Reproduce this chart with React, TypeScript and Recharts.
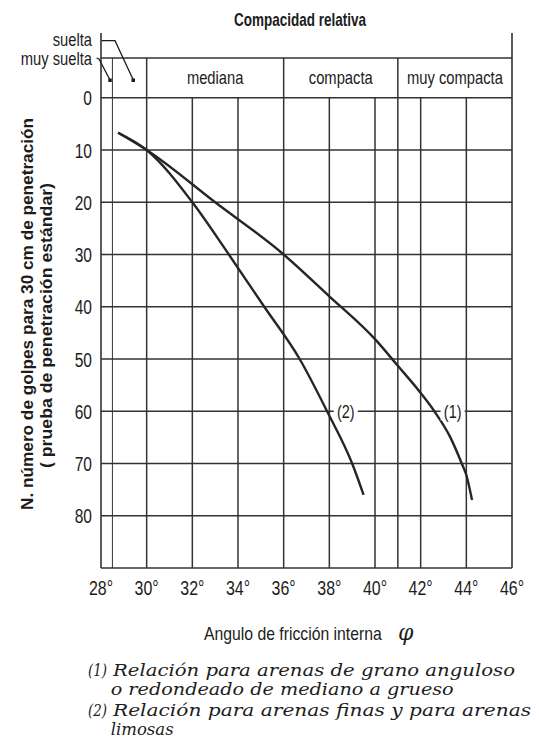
import { LineChart, Line, XAxis, YAxis, ReferenceLine, ReferenceArea, ReferenceDot } from "recharts";

// valores (ángulo phi en grados, N golpes)
const CURVE1_PHI = [28.75, 30, 33, 36, 38, 40, 41, 42, 42.6, 43.3, 43.8, 44.0, 44.25];
const CURVE1_N = [6.7, 10, 20, 30, 38, 46.2, 51.3, 56.5, 60, 65, 70, 72.2, 77];
const CURVE2_PHI = [28.75, 30, 32, 33.6, 35.15, 36.7, 37.9, 39.0, 39.5];
const CURVE2_N = [6.7, 10, 20, 30, 40, 50, 60, 70, 76];

const X_TICKS = [28, 30, 32, 34, 36, 38, 40, 42, 44, 46];
const Y_TICKS = [0, 10, 20, 30, 40, 50, 60, 70, 80];
const GRID_X = [32, 34, 38, 40, 42, 44];
const DIVIDER_X = [28.5, 30, 36, 41];
const ZONE_EDGES = [30, 36, 41, 46];
const ZONE_NAMES = ["mediana", "compacta", "muy compacta"];
const CURVE_LABELS = [
  { text: "(1)", phi: 43.4, n: 60 },
  { text: "(2)", phi: 38.72, n: 60 },
];

const curve1 = CURVE1_PHI.map((phi, i) => ({ phi, n: CURVE1_N[i] }));
const curve2 = CURVE2_PHI.map((phi, i) => ({ phi, n: CURVE2_N[i] }));

const W = 531;
const H = 735;
const HEADER_TOP = -7.6;
const Y_MIN = -12.4;
const Y_MAX = 90;

const SANS = '"Liberation Sans", Arial, sans-serif';
const SERIF = '"DejaVu Serif", "Liberation Serif", serif';
const INK = "#1c1c1c";
const GRID = "#333";

// texto sans estrecho (imita una fuente condensada)
function NText(props: any) {
  const { x, y, anchor = "start", size = 18, weight = "normal", sx = 0.8, children } = props;
  return (
    <text
      transform={`translate(${x},${y}) scale(${sx},1)`}
      textAnchor={anchor}
      fontSize={size}
      fontWeight={weight}
      fontFamily={SANS}
      fill={INK}
    >
      {children}
    </text>
  );
}

function XTick(props: any) {
  const { x, y, payload } = props;
  return (
    <NText x={x} y={y + 15} anchor="middle" size={21} sx={0.76}>
      {payload.value}°
    </NText>
  );
}

function YTick(props: any) {
  const { x, y, payload } = props;
  return (
    <NText x={x} y={y + 7.5} anchor="end" size={21} sx={0.74}>
      {payload.value}
    </NText>
  );
}

function ZoneLabel(props: any) {
  const { viewBox, text } = props;
  if (!viewBox) return null;
  return (
    <NText x={viewBox.x + viewBox.width / 2} y={viewBox.y + viewBox.height / 2 + 6.5} anchor="middle" size={18} sx={0.82}>
      {text}
    </NText>
  );
}

function CurveLabel(props: any) {
  const { cx, cy, text } = props;
  return (
    <g>
      <rect x={cx - 12} y={cy - 9} width={24} height={18} fill="#fff" />
      <NText x={cx} y={cy + 6.5} anchor="middle" size={18} sx={0.8}>
        {text}
      </NText>
    </g>
  );
}

export default function App() {
  return (
    <div style={{ position: "relative", width: W, height: H, background: "#fff" }}>
      <LineChart width={W} height={H} margin={{ top: 25, right: 27, left: 33, bottom: 135 }}>
        <XAxis
          dataKey="phi"
          type="number"
          domain={[28, 46]}
          ticks={X_TICKS}
          height={40}
          tickLine={false}
          tickSize={10}
          tickMargin={2}
          axisLine={{ stroke: GRID, strokeWidth: 1.6 }}
          tick={(p: any) => <XTick {...p} />}
          allowDataOverflow
        />
        <YAxis
          dataKey="n"
          type="number"
          domain={[Y_MIN, Y_MAX]}
          reversed
          ticks={Y_TICKS}
          width={60}
          tickLine={false}
          tickSize={7}
          tickMargin={2}
          axisLine={{ stroke: GRID, strokeWidth: 1.6 }}
          tick={(p: any) => <YTick {...p} />}
          allowDataOverflow
        />

        {Y_TICKS.map((v) => (
          <ReferenceLine key={"h" + v} y={v} stroke={GRID} strokeWidth={1.5} />
        ))}
        <ReferenceLine y={HEADER_TOP} stroke={GRID} strokeWidth={1.5} />
        <ReferenceLine x={46} stroke={GRID} strokeWidth={1.6} />
        {GRID_X.map((v) => (
          <ReferenceLine
            key={"v" + v}
            segment={[{ x: v, y: 0 }, { x: v, y: Y_MAX }]}
            stroke={GRID}
            strokeWidth={1.5}
          />
        ))}
        {DIVIDER_X.map((v) => (
          <ReferenceLine
            key={"d" + v}
            segment={[{ x: v, y: HEADER_TOP }, { x: v, y: Y_MAX }]}
            stroke={GRID}
            strokeWidth={v === 28.5 ? 1 : 1.5}
          />
        ))}
        {ZONE_NAMES.map((name, i) => (
          <ReferenceArea
            key={name}
            x1={ZONE_EDGES[i]}
            x2={ZONE_EDGES[i + 1]}
            y1={HEADER_TOP}
            y2={0}
            fill="#fff"
            fillOpacity={0}
            stroke="none"
            label={{ content: (p: any) => <ZoneLabel {...p} text={name} /> }}
          />
        ))}

        <Line
          data={curve1}
          dataKey="n"
          type="monotone"
          stroke="#262626"
          strokeWidth={2.4}
          dot={false}
          isAnimationActive={false}
        />
        <Line
          data={curve2}
          dataKey="n"
          type="monotone"
          stroke="#262626"
          strokeWidth={2.4}
          dot={false}
          isAnimationActive={false}
        />
        {CURVE_LABELS.map((l) => (
          <ReferenceDot
            key={l.text}
            x={l.phi}
            y={l.n}
            r={0}
            shape={(p: any) => <CurveLabel {...p} text={l.text} />}
          />
        ))}
      </LineChart>

      <svg
        width={W}
        height={H}
        style={{ position: "absolute", left: 0, top: 0, pointerEvents: "none" }}
      >
        <NText x={292} y={18} anchor="middle" size={18} weight="bold" sx={0.75}>
          Compacidad relativa
        </NText>

        <NText x={84} y={38} anchor="end" size={18} sx={0.82}>
          suelta
        </NText>
        <NText x={84} y={57} anchor="end" size={18} sx={0.82}>
          muy suelta
        </NText>
        <polyline points="93.7,32.7 107,32.7 125.3,72" fill="none" stroke={INK} strokeWidth={1.3} />
        <rect x={123.5} y={70.5} width={3.5} height={3.5} fill={INK} />
        <polyline points="88.5,50 91,51 102,72" fill="none" stroke={INK} strokeWidth={1.3} />
        <rect x={100.3} y={70.5} width={3.5} height={3.5} fill={INK} />

        <text transform="translate(25,306) rotate(-90)" textAnchor="middle" fontSize={16} fontWeight="bold" fontFamily={SANS} fill={INK} textLength={392} lengthAdjust="spacingAndGlyphs">
          N. número de golpes para 30 cm de penetración
        </text>
        <text transform="translate(44,317.5) rotate(-90)" textAnchor="middle" fontSize={16} fontWeight="bold" fontFamily={SANS} fill={INK} textLength={285} lengthAdjust="spacingAndGlyphs">
          ( prueba de penetración estándar)
        </text>

        <NText x={196} y={632} size={19} sx={0.83}>
          Angulo de fricción interna
        </NText>
        <text x={390} y={632} fontFamily={SERIF} fontStyle="italic" fontSize={22} fill={INK}>
          φ
        </text>

        <g fontFamily={SERIF} fontStyle="italic" fontSize={16.5} fill={INK}>
          <text x={80} y={668} textLength={19} lengthAdjust="spacingAndGlyphs">(1)</text>
          <text x={105} y={668} textLength={402} lengthAdjust="spacingAndGlyphs">
            Relación para arenas de grano anguloso
          </text>
          <text x={102.7} y={687} textLength={343} lengthAdjust="spacingAndGlyphs">
            o redondeado de mediano a grueso
          </text>
          <text x={80} y={708} textLength={19} lengthAdjust="spacingAndGlyphs">(2)</text>
          <text x={105} y={708} textLength={418} lengthAdjust="spacingAndGlyphs">
            Relación para arenas finas y para arenas
          </text>
          <text x={102.7} y={727}>limosas</text>
        </g>
      </svg>
    </div>
  );
}
